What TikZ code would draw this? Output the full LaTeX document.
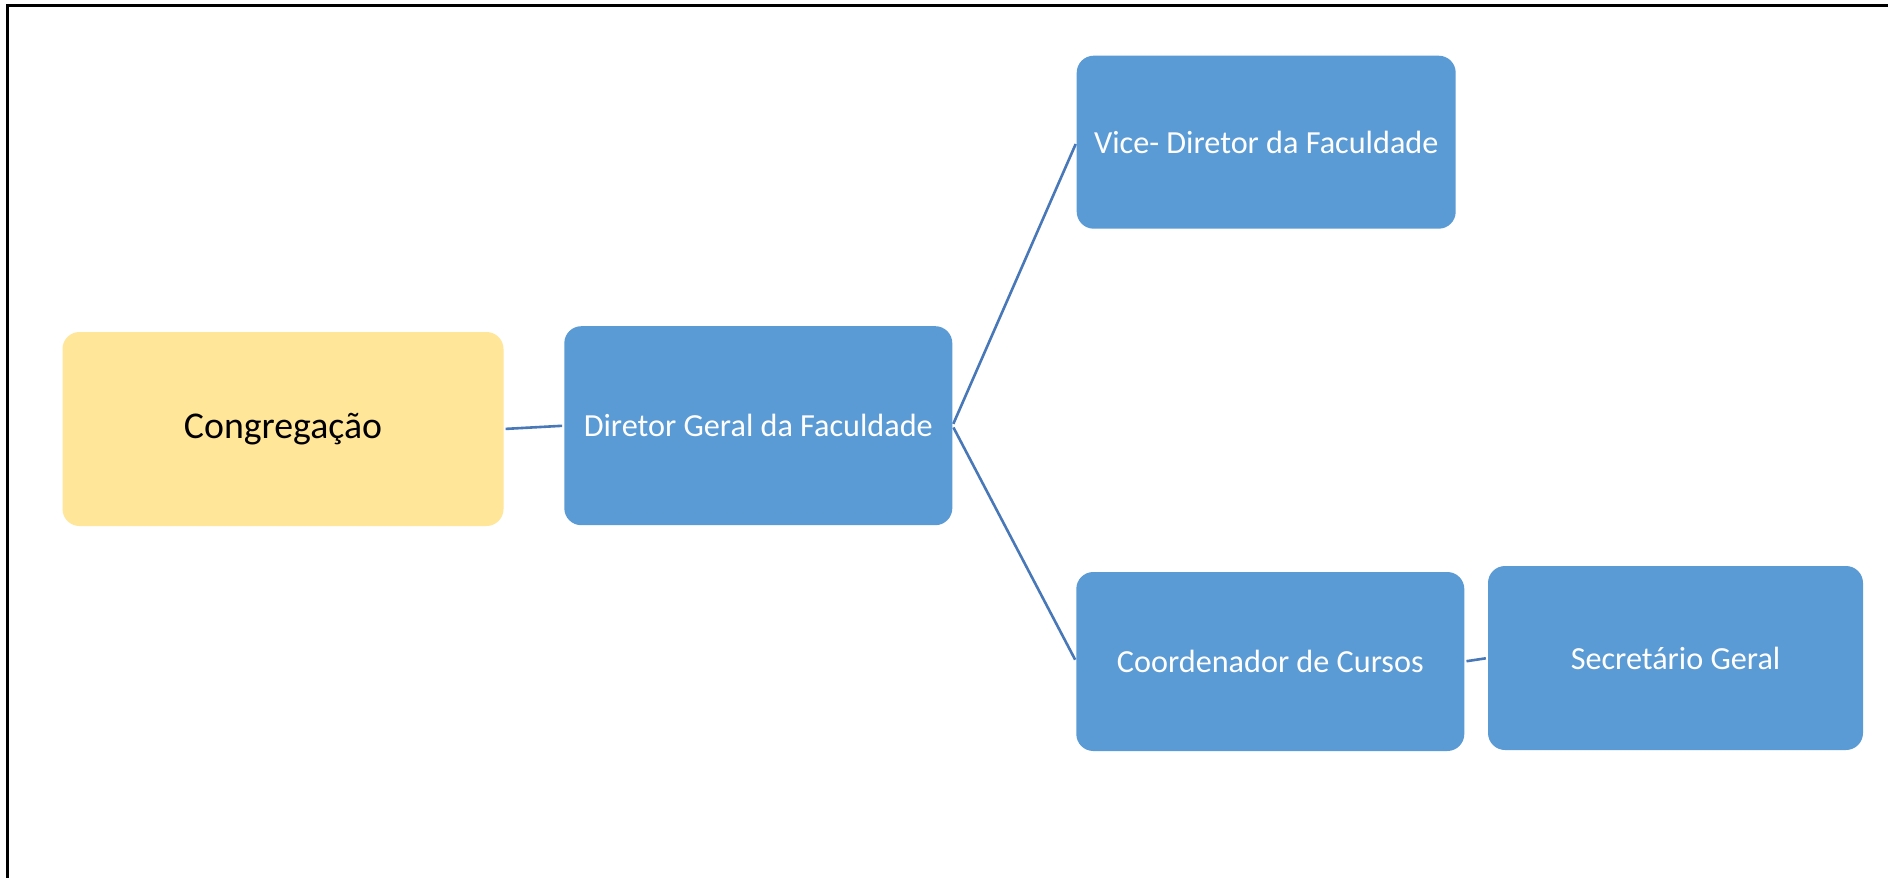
\documentclass[tikz,border=0pt]{standalone}
\usepackage{fontspec}
\setmainfont{Carlito}
\definecolor{boxblue}{HTML}{5B9BD5}
\definecolor{boxyellow}{HTML}{FFE699}
\definecolor{linkblue}{HTML}{4878B8}
\begin{document}
\begin{tikzpicture}[x=1pt,y=-1pt,
  box/.style={rectangle, rounded corners=17pt, inner sep=0pt, fill=boxblue, text=white,
    font=\fontsize{32.2}{38}\selectfont},
  link/.style={draw=linkblue, line width=2.6pt, shorten >=2pt, shorten <=2pt}]
\useasboundingbox (0,0) rectangle (1888,878);
\fill[white] (0,0) rectangle (1888,878);
\draw[line width=3pt] (7.5,878) -- (7.5,5) -- (1888,5);
\node[box, fill=boxyellow, text=black, font=\fontsize{37.8}{44}\selectfont,
  minimum width=441pt, minimum height=194pt] (cong) at (283,429) {Congregação};
\node[box, minimum width=388pt, minimum height=199pt] (dir) at (758.3,425.7) {Diretor Geral da Faculdade};
\node[box, minimum width=379pt, minimum height=173pt] (vice) at (1266.2,142.2) {Vice- Diretor da Faculdade};
\node[box, minimum width=388pt, minimum height=179pt] (coord) at (1270.3,661.5) {Coordenador de Cursos};
\node[box, minimum width=375pt, minimum height=184pt] (sec) at (1675.5,658) {Secretário Geral};
\draw[link] (cong.east) -- (dir.west);
\draw[link] (dir.east) -- (vice.west);
\draw[link] (dir.east) -- (coord.west);
\draw[link] (coord.east) -- (sec.west);
\end{tikzpicture}
\end{document}
